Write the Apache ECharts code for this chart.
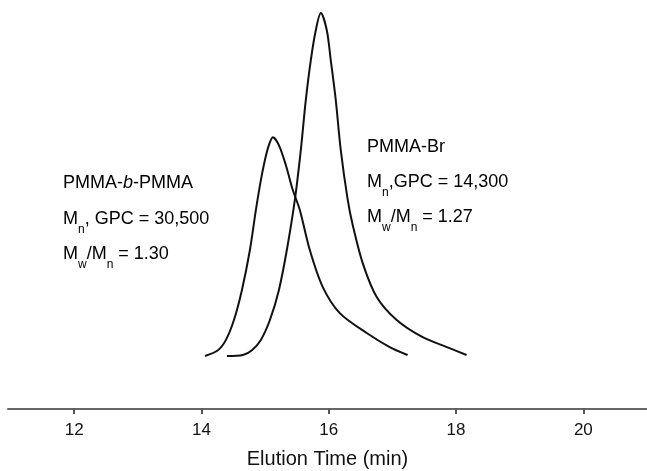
<!DOCTYPE html>
<html><head><meta charset="utf-8">
<script src="https://cdn.jsdelivr.net/npm/echarts@6/dist/echarts.min.js"></script>
<style>html,body{margin:0;padding:0;background:#fff}#c{width:647px;height:471px}</style>
</head><body><div id="c"></div>
<script>
// Tick labels on the elution-time axis
const xTicks = [12, 14, 16, 18, 20];
// PMMA-b-PMMA trace (elution time, normalised RI signal)
const blockTime   = [14.055, 14.259, 14.384, 14.510, 14.635, 14.761, 14.855, 14.933, 14.996, 15.059, 15.122, 15.216, 15.325, 15.435, 15.545, 15.702, 15.906, 16.173, 16.596, 16.957, 17.239];
const blockSignal = [0.000, 0.017, 0.047, 0.105, 0.192, 0.309, 0.426, 0.513, 0.571, 0.615, 0.638, 0.615, 0.557, 0.484, 0.426, 0.309, 0.201, 0.125, 0.067, 0.026, 0.003];
// PMMA-Br trace
const brTime   = [14.400, 14.651, 14.792, 14.933, 15.075, 15.216, 15.341, 15.467, 15.561, 15.639, 15.718, 15.796, 15.875, 15.969, 16.031, 16.110, 16.188, 16.298, 16.376, 16.533, 16.753, 17.067, 17.475, 17.898, 18.165];
const brSignal = [0.000, 0.003, 0.017, 0.047, 0.105, 0.192, 0.309, 0.455, 0.601, 0.746, 0.863, 0.950, 1.000, 0.950, 0.863, 0.746, 0.601, 0.455, 0.382, 0.271, 0.172, 0.105, 0.055, 0.023, 0.003];

const FONT = "'Liberation Sans', Arial, sans-serif";
const pair = (xs, ys) => xs.map((x, i) => [x, ys[i]]);

const rich = {
  a: { fontSize: 18, fontFamily: FONT, color: '#111', lineHeight: 22 },
  i: { fontSize: 18, fontFamily: FONT, color: '#111', lineHeight: 22, fontStyle: 'italic' },
  s: { fontSize: 12, fontFamily: FONT, color: '#111', lineHeight: 12, padding: [22, 0, 0, 0] }
};
function label(x, y, text) {
  return { type: 'text', x: x, y: y, style: { text: text, rich: rich, verticalAlign: 'middle', align: 'left' } };
}

const chart = echarts.init(document.getElementById('c'));
chart.setOption({
  animation: false,
  backgroundColor: '#fff',
  grid: { left: 8, right: 0, top: 0, bottom: 62, containLabel: false, outerBoundsMode: 'none' },
  xAxis: {
    type: 'value', min: 10.96, max: 21,
    name: 'Elution Time (min)', nameLocation: 'middle', nameGap: 40,
    nameTextStyle: { fontSize: 20, fontFamily: FONT, color: '#111' },
    axisLine: { onZero: false, lineStyle: { color: '#666', width: 2 } },
    axisTick: { show: true, inside: false, customValues: xTicks, length: 5, lineStyle: { color: '#555', width: 2 } },
    axisLabel: { customValues: xTicks, fontSize: 17, fontFamily: FONT, color: '#111', margin: 13 },
    splitLine: { show: false }
  },
  yAxis: { type: 'value', min: -0.1545, max: 1.038, show: false },
  series: [
    { type: 'line', data: pair(blockTime, blockSignal), smooth: 0.3, showSymbol: false,
      lineStyle: { color: '#111', width: 2 } },
    { type: 'line', data: pair(brTime, brSignal), smooth: 0.3, showSymbol: false,
      lineStyle: { color: '#111', width: 2 } }
  ],
  graphic: [
    label(63, 183, '{a|PMMA-}{i|b}{a|-PMMA}'),
    label(63, 219, '{a|M}{s|n}{a|, GPC = 30,500}'),
    label(63, 254, '{a|M}{s|w}{a|/M}{s|n}{a| = 1.30}'),
    label(367, 147, '{a|PMMA-Br}'),
    label(367, 182, '{a|M}{s|n}{a|,GPC = 14,300}'),
    label(367, 217, '{a|M}{s|w}{a|/M}{s|n}{a| = 1.27}')
  ]
});
</script>
</body></html>
